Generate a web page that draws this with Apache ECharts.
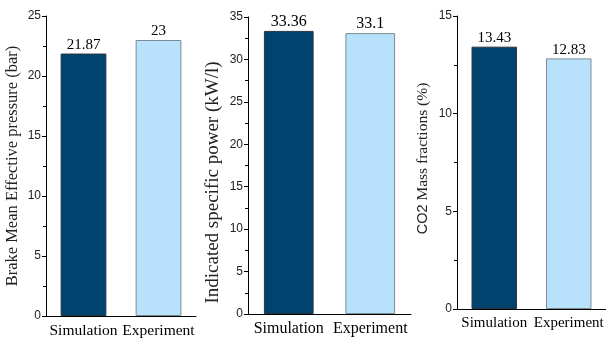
<!DOCTYPE html>
<html>
<head>
<meta charset="utf-8">
<script src="https://cdn.jsdelivr.net/npm/echarts@6/dist/echarts.min.js"></script>
<style>
html,body{margin:0;padding:0;background:#fff;}
#chart{width:606px;height:342px;}
</style>
</head>
<body>
<div id="chart"></div>
<script>
var categories = ['Simulation', 'Experiment'];
var bmepValues = [21.87, 23];
var powerValues = [33.36, 33.1];
var co2Values = [13.43, 12.83];
var axisTitles = ['Brake Mean Effective pressure (bar)', 'Indicated specific power (kW/l)', 'CO2 Mass fractions (%)'];
var axisMax = [25, 35, 15];
var valueLabels = [['21.87', '23'], ['33.36', '33.1'], ['13.43', '12.83']];

var barColors = ['#00436e', '#b8e2fb'];
var borderColors = ['#2a3440', '#7d8a92'];
var serif = '"Liberation Serif", "Times New Roman", serif';
var sans = '"Liberation Sans", Arial, sans-serif';

var grids = [
  {left: 46, top: 16, width: 150, height: 300},
  {left: 248, top: 17, width: 163, height: 297},
  {left: 457, top: 16, width: 152, height: 293}
];
var nameGaps = [25, 25, 26];
var nameSizes = [16.5, 19, 15.5];
var namePads = [[0, 0, 0, 0], [0, 34, 0, 0], [0, 0, 0, 8]];
var labelSizes = [15, 16, 15];
var catSizes = [15.5, 16, 15];
var seriesData = [bmepValues, powerValues, co2Values];

function richName(s) {
  var m = s.match(/^CO2(.*)$/);
  return m ? '{s|CO2}{t|' + m[1] + '}' : '{t|' + s + '}';
}

var option = {
  animation: false,
  backgroundColor: '#fff',
  grid: grids,
  xAxis: [],
  yAxis: [],
  series: []
};

for (var i = 0; i < 3; i++) {
  option.xAxis.push({
    type: 'category', gridIndex: i, data: categories,
    axisLine: {lineStyle: {color: '#000', width: 1}},
    axisTick: {alignWithLabel: true, length: 5, lineStyle: {color: '#000'}},
    axisLabel: {interval: 0, color: '#000', fontFamily: serif, fontSize: catSizes[i], margin: 7}
  });
  option.xAxis.push({
    type: 'category', gridIndex: i, data: categories,
    axisLine: {show: false},
    axisTick: {interval: 0, length: 3, lineStyle: {color: '#000'}},
    axisLabel: {show: false}
  });
  option.yAxis.push({
    type: 'value', gridIndex: i, min: 0, max: axisMax[i], interval: 5,
    name: richName(axisTitles[i]), nameLocation: 'middle', nameGap: nameGaps[i],
    nameTextStyle: {
      fontFamily: serif, fontSize: nameSizes[i], color: '#222', padding: namePads[i],
      rich: {
        s: {fontFamily: sans, fontSize: nameSizes[i] - 1, color: '#222'},
        t: {fontFamily: serif, fontSize: nameSizes[i], color: '#222'}
      }
    },
    axisLine: {show: true, lineStyle: {color: '#000', width: 1}},
    axisTick: {show: true, length: 4, lineStyle: {color: '#000'}},
    minorTick: {show: true, splitNumber: 2, length: 3, lineStyle: {color: '#000'}},
    splitLine: {show: false},
    axisLabel: {color: '#222', fontFamily: sans, fontSize: 12, margin: 5}
  });
  (function(idx){
    option.series.push({
      type: 'bar', xAxisIndex: idx * 2, yAxisIndex: idx,
      barWidth: '61%',
      data: seriesData[idx].map(function(v, j){
        return {value: v, itemStyle: {color: barColors[j], borderColor: borderColors[j], borderWidth: 1}};
      }),
      label: {
        show: true, position: 'top', distance: 1,
        fontFamily: serif, fontSize: labelSizes[idx], color: '#000',
        formatter: function(p){ return valueLabels[idx][p.dataIndex]; }
      }
    });
  })(i);
}

var chart = echarts.init(document.getElementById('chart'), null, {renderer: 'canvas'});
chart.setOption(option);
</script>
</body>
</html>
